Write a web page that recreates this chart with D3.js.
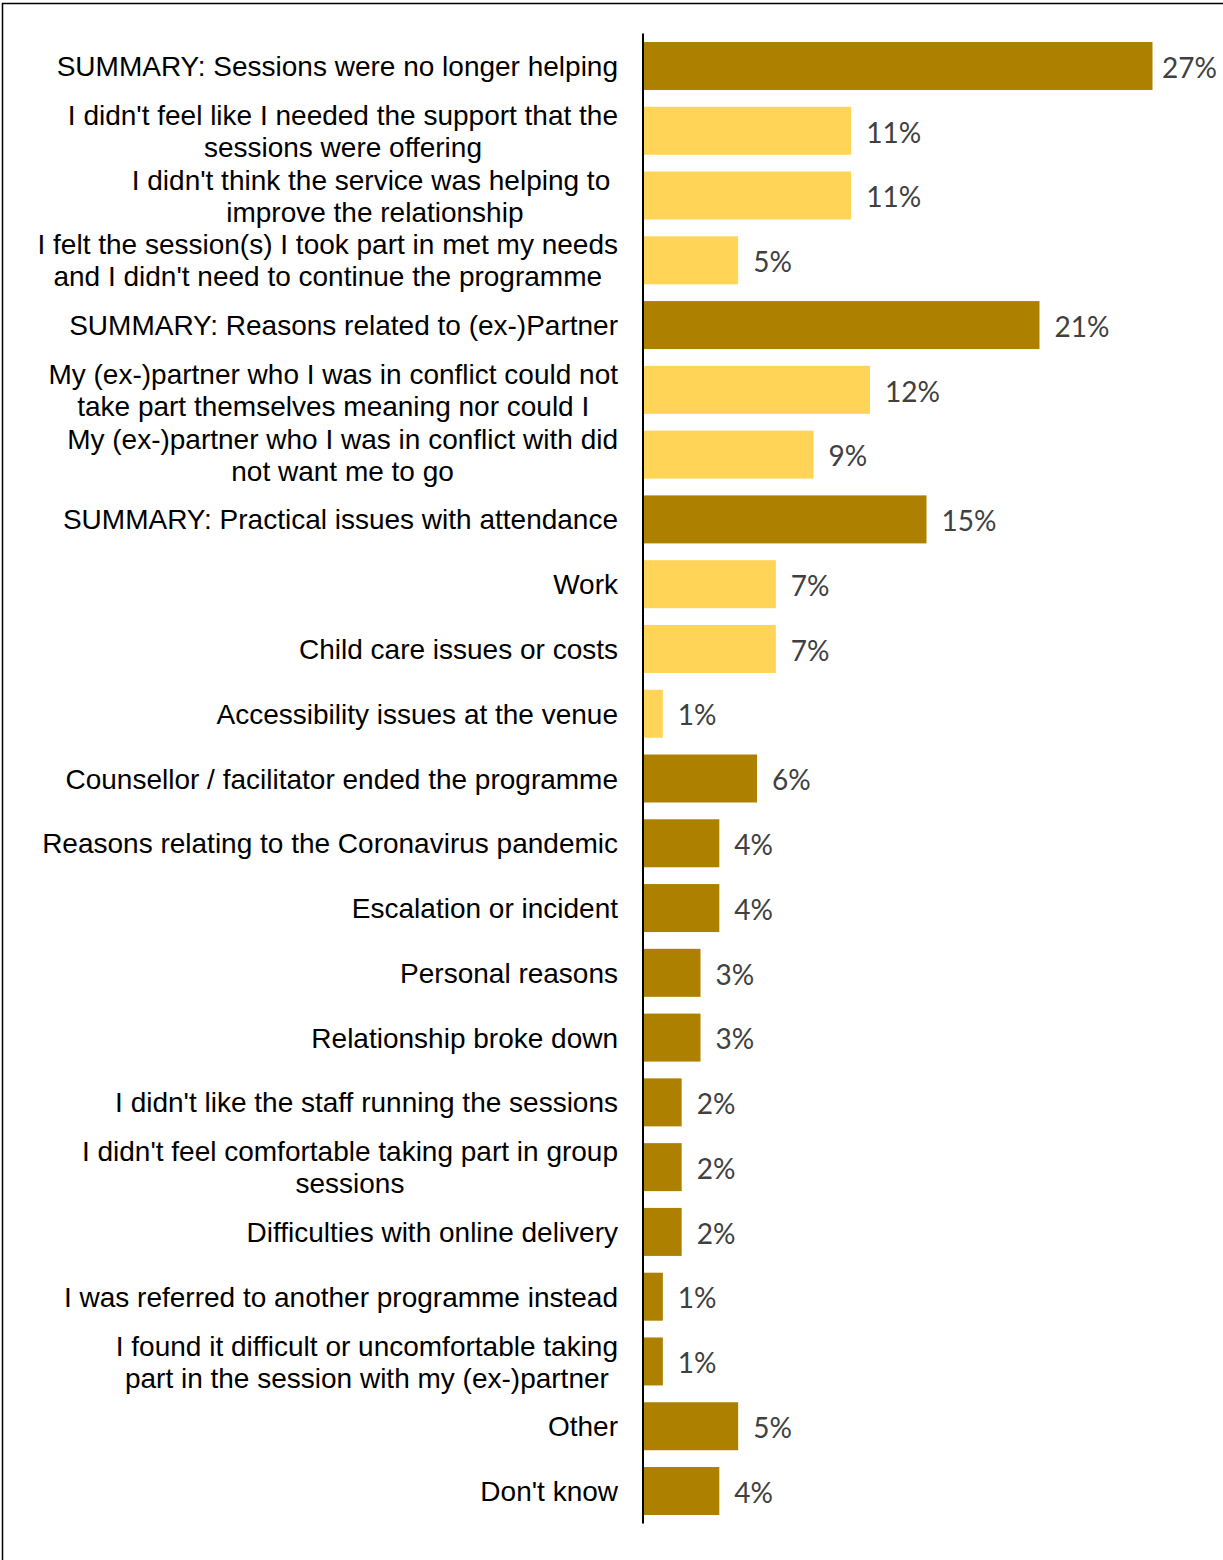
<!DOCTYPE html>
<html>
<head>
<meta charset="utf-8">
<script src="https://cdn.jsdelivr.net/npm/d3@7"></script>
<style>
  body { margin: 0; background: #fff; }
  .cat-label { font-family: "Liberation Sans", Arial, sans-serif; font-size: 28px; fill: #000; }
  .val-label { font-family: Lato, "Open Sans", sans-serif; font-size: 28px; fill: #404040; }
</style>
</head>
<body>
<div id="chart"></div>
<script>
// categories (each entry = lines of the wrapped label)
var categories = [
	["SUMMARY: Sessions were no longer helping"],
	["I didn't feel like I needed the support that the", "sessions were offering"],
	["I didn't think the service was helping to ", "improve the relationship"],
	["I felt the session(s) I took part in met my needs", "and I didn't need to continue the programme"],
	["SUMMARY: Reasons related to (ex-)Partner"],
	["My (ex-)partner who I was in conflict could not", "take part themselves meaning nor could I"],
	["My (ex-)partner who I was in conflict with did", "not want me to go"],
	["SUMMARY: Practical issues with attendance"],
	["Work"],
	["Child care issues or costs"],
	["Accessibility issues at the venue"],
	["Counsellor / facilitator ended the programme"],
	["Reasons relating to the Coronavirus pandemic"],
	["Escalation or incident"],
	["Personal reasons"],
	["Relationship broke down"],
	["I didn't like the staff running the sessions"],
	["I didn't feel comfortable taking part in group", "sessions"],
	["Difficulties with online delivery"],
	["I was referred to another programme instead"],
	["I found it difficult or uncomfortable taking", "part in the session with my (ex-)partner"],
	["Other"],
	["Don't know"]
];

var values = [27, 11, 11, 5, 21, 12, 9, 15, 7, 7, 1, 6, 4, 4, 3, 3, 2, 2, 2, 1, 1, 5, 4];

// "main" = dark gold, "sub" = light yellow
var groups = ["main", "sub", "sub", "sub", "main", "sub", "sub", "main", "sub", "sub", "sub",
	"main", "main", "main", "main", "main", "main", "main", "main", "main", "main", "main", "main"];

var data = categories.map(function(c, i) {
	return { id: i, lines: c, value: values[i], group: groups[i] };
});

var width = 1223, height = 1560;

var svg = d3.select("#chart").append("svg")
	.attr("width", width)
	.attr("height", height);

// outer frame
svg.append("rect")
	.attr("x", 2.5).attr("y", 3.5)
	.attr("width", 1260).attr("height", 1600)
	.attr("fill", "none")
	.attr("stroke", "#000")
	.attr("stroke-width", 1.5);

// Scales
var x = d3.scaleLinear()
	.domain([0, 30])
	.range([644, 1209]);

var y = d3.scaleBand()
	.domain(data.map(d => d.id))
	.range([33.6, 1523.4])
	.paddingInner(0.259)
	.paddingOuter(0.1295);

var color = d3.scaleOrdinal()
	.domain(["main", "sub"])
	.range(["#AD8000", "#FFD457"]);

// Bars
svg.selectAll(".bar")
	.data(data)
	.enter().append("rect")
	.attr("class", "bar")
	.attr("x", x(0))
	.attr("y", d => y(d.id))
	.attr("width", d => x(d.value) - x(0))
	.attr("height", y.bandwidth())
	.attr("fill", d => color(d.group));

// Value labels (pushed back in if they would run off the right edge)
svg.selectAll(".val-label")
	.data(data)
	.enter().append("text")
	.attr("class", "val-label")
	.attr("y", d => y(d.id) + y.bandwidth() / 2)
	.attr("dy", "0.42em")
	.text(d => d.value + "%")
	.attr("x", function(d) {
		var w = this.getComputedTextLength();
		return Math.min(x(d.value) + 15, width - 6 - w);
	});

// Category labels (right aligned block, lines centred within the block)
var labelRight = 618, lineGap = 32;

data.forEach(function(d) {
	var cy = y(d.id) + y.bandwidth() / 2;
	var g = svg.append("g");
	if (d.lines.length == 1) {
		g.append("text")
			.attr("class", "cat-label")
			.attr("x", labelRight)
			.attr("y", cy)
			.attr("dy", "0.36em")
			.attr("text-anchor", "end")
			.text(d.lines[0]);
	} else {
		var texts = d.lines.map(function(l, i) {
			return g.append("text")
				.attr("class", "cat-label")
				.attr("xml:space", "preserve")
				.attr("y", cy + (i - (d.lines.length - 1) / 2) * lineGap)
				.attr("dy", "0.36em")
				.attr("text-anchor", "middle")
				.text(l);
		});
		var maxW = d3.max(texts, t => t.node().getComputedTextLength());
		texts.forEach(t => t.attr("x", labelRight - maxW / 2));
	}
});

// Axis line
svg.append("line")
	.attr("x1", 643).attr("x2", 643)
	.attr("y1", y.range()[0]).attr("y2", y.range()[1])
	.attr("stroke", "#000")
	.attr("stroke-width", 2);
</script>
</body>
</html>
